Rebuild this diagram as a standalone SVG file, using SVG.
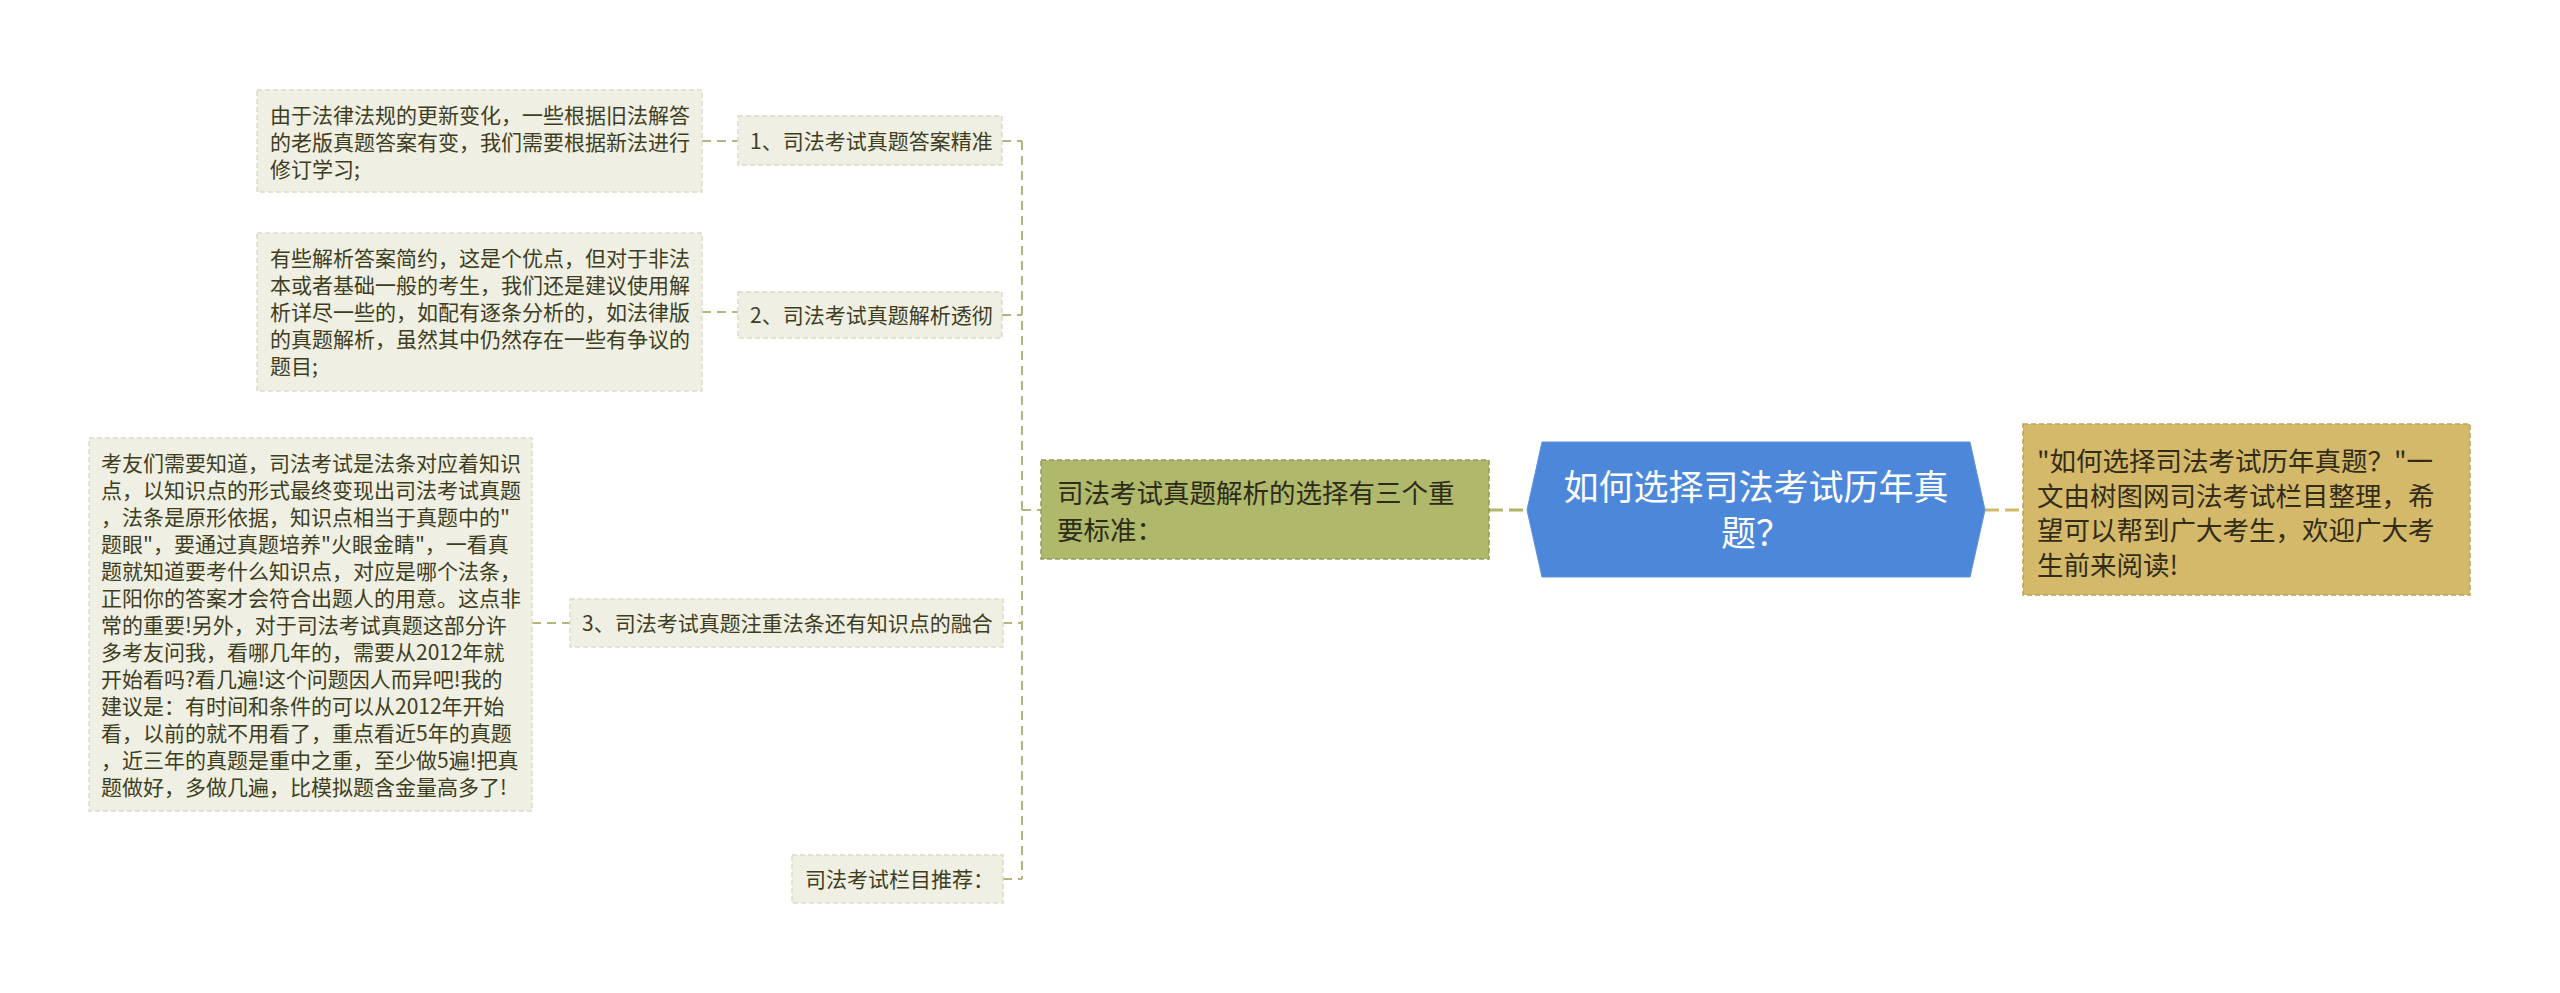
<svg xmlns="http://www.w3.org/2000/svg" width="2560" height="993" viewBox="0 0 2560 993">
<style>
text{font-family:"Noto Sans CJK SC","Noto Sans",sans-serif;}
.leaf{fill:#efefe3;stroke:#dcdcc9;stroke-width:1.5;stroke-dasharray:5 3;}
.lt{font-size:21px;fill:#3e3e1e;}
.conn{fill:none;stroke:#b3b47e;stroke-width:2;stroke-dasharray:9 6;}
.main{fill:#b0b86c;stroke:#929a52;stroke-width:1.5;stroke-dasharray:5 3;}
.mt{font-size:26.5px;fill:#2c2c18;}
.hex{fill:#4c87d9;stroke:#5d93dd;stroke-width:1;}
.ht{font-size:35px;fill:#ffffff;}
.rn{fill:#d4b96b;stroke:#bfa352;stroke-width:1.5;stroke-dasharray:5 3;}
.rt{font-size:26.5px;fill:#332d18;}
</style>
<g id="connectors">
<path class="conn" d="M1022 141 V879"/>
<path class="conn" d="M1002 141 H1022"/>
<path class="conn" d="M702 141 H738"/>
<path class="conn" d="M1002 315 H1022"/>
<path class="conn" d="M702 312 H738"/>
<path class="conn" d="M1003 623 H1022"/>
<path class="conn" d="M532 623 H570"/>
<path class="conn" d="M1003 879 H1022"/>
<path class="conn" d="M1022 510 H1041"/>
<path d="M1489 510 H1527" fill="none" stroke="#b0b56c" stroke-width="3" stroke-dasharray="14 6"/>
<path d="M1985 510 H2023" fill="none" stroke="#d1b86c" stroke-width="3" stroke-dasharray="14 6"/>
</g>
<g id="center">
<polygon class="hex" points="1527,510 1542,442 1970,442 1985,510 1970,577 1542,577"/>
<text class="ht" x="1756" y="500" text-anchor="middle">如何选择司法考试历年真</text>
<text class="ht" x="1756" y="546" text-anchor="middle">题？</text>
</g>
<g id="branch-main">
<rect class="main" x="1041" y="460" width="448" height="99"/>
<text class="mt" x="1057" y="503">司法考试真题解析的选择有三个重</text>
<text class="mt" x="1057" y="540">要标准：</text>
</g>
<g id="summary">
<rect class="rn" x="2023" y="424" width="447" height="171"/>
<text class="rt" x="2037" y="471">"如何选择司法考试历年真题？"一</text>
<text class="rt" x="2037" y="505.5">文由树图网司法考试栏目整理，希</text>
<text class="rt" x="2037" y="540">望可以帮到广大考生，欢迎广大考</text>
<text class="rt" x="2037" y="574.5">生前来阅读!</text>
</g>
<g id="label-1">
<rect class="leaf" x="738" y="116" width="264" height="49"/>
<text class="lt" x="750" y="149">1、司法考试真题答案精准</text>
</g>
<g id="leaf-1">
<rect class="leaf" x="257" y="90" width="445" height="102"/>
<text class="lt" x="270" y="123">由于法律法规的更新变化，一些根据旧法解答</text>
<text class="lt" x="270" y="150">的老版真题答案有变，我们需要根据新法进行</text>
<text class="lt" x="270" y="177">修订学习;</text>
</g>
<g id="label-2">
<rect class="leaf" x="738" y="292" width="264" height="46"/>
<text class="lt" x="750" y="323">2、司法考试真题解析透彻</text>
</g>
<g id="leaf-2">
<rect class="leaf" x="257" y="233" width="445" height="158"/>
<text class="lt" x="270" y="266">有些解析答案简约，这是个优点，但对于非法</text>
<text class="lt" x="270" y="293">本或者基础一般的考生，我们还是建议使用解</text>
<text class="lt" x="270" y="320">析详尽一些的，如配有逐条分析的，如法律版</text>
<text class="lt" x="270" y="347">的真题解析，虽然其中仍然存在一些有争议的</text>
<text class="lt" x="270" y="374">题目;</text>
</g>
<g id="label-3">
<rect class="leaf" x="570" y="599" width="433" height="48"/>
<text class="lt" x="582" y="631">3、司法考试真题注重法条还有知识点的融合</text>
</g>
<g id="leaf-3">
<rect class="leaf" x="89" y="438" width="443" height="373"/>
<text class="lt" x="101" y="471">考友们需要知道，司法考试是法条对应着知识</text>
<text class="lt" x="101" y="498">点，以知识点的形式最终变现出司法考试真题</text>
<text class="lt" x="101" y="525">，法条是原形依据，知识点相当于真题中的"</text>
<text class="lt" x="101" y="552">题眼"，要通过真题培养"火眼金睛"，一看真</text>
<text class="lt" x="101" y="579">题就知道要考什么知识点，对应是哪个法条，</text>
<text class="lt" x="101" y="606">正阳你的答案才会符合出题人的用意。这点非</text>
<text class="lt" x="101" y="633">常的重要!另外，对于司法考试真题这部分许</text>
<text class="lt" x="101" y="660">多考友问我，看哪几年的，需要从2012年就</text>
<text class="lt" x="101" y="687">开始看吗?看几遍!这个问题因人而异吧!我的</text>
<text class="lt" x="101" y="714">建议是：有时间和条件的可以从2012年开始</text>
<text class="lt" x="101" y="741">看，以前的就不用看了，重点看近5年的真题</text>
<text class="lt" x="101" y="768">，近三年的真题是重中之重，至少做5遍!把真</text>
<text class="lt" x="101" y="795">题做好，多做几遍，比模拟题含金量高多了!</text>
</g>
<g id="label-4">
<rect class="leaf" x="792" y="855" width="211" height="48"/>
<text class="lt" x="805" y="887">司法考试栏目推荐：</text>
</g>
</svg>
